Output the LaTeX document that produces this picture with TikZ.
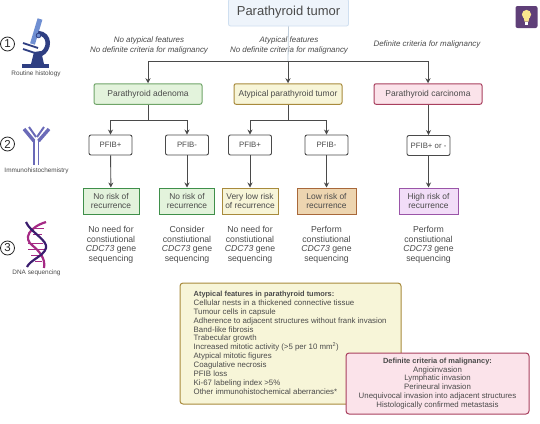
\documentclass[tikz,border=0pt]{standalone}
\usepackage{fontspec}
\setmainfont{Liberation Sans}
\usepackage{xcolor}
\usetikzlibrary{positioning,arrows.meta}
\definecolor{inkgray}{HTML}{4A4A4A}
\definecolor{textgray}{HTML}{4A4A4A}
\definecolor{titlefill}{HTML}{EEF4FB}
\definecolor{titleline}{HTML}{CFDFF0}
\definecolor{greenfill}{HTML}{E3F3DC}
\definecolor{greenline}{HTML}{6FA468}
\definecolor{riskgreen}{HTML}{3F8F4A}
\definecolor{yellowfill}{HTML}{F7F5D8}
\definecolor{yellowline}{HTML}{A88A3C}
\definecolor{pinkfill}{HTML}{FBE3EA}
\definecolor{pinkline}{HTML}{A83F5E}
\definecolor{tanfill}{HTML}{EDD5B0}
\definecolor{tanline}{HTML}{A8683A}
\definecolor{lilacfill}{HTML}{F2DDF8}
\definecolor{lilacline}{HTML}{9A55A8}
\definecolor{scopenavy}{HTML}{2F3F82}
\definecolor{scopeblue}{HTML}{6F8FD2}
\definecolor{abviolet}{HTML}{6A6AB8}
\definecolor{dnadark}{HTML}{3A1C6E}
\definecolor{dnapink}{HTML}{A52A85}
\definecolor{bulbback}{HTML}{5F3F78}
\definecolor{bulbglow}{HTML}{FBE78E}

\begin{document}
\begin{tikzpicture}[x=1pt,y=-1pt,
  every node/.style={font=\fontsize{8.4}{9.6}\selectfont,text=textgray},
  diag/.style={draw,rounded corners=2pt,line width=1pt,align=center,minimum width=108pt,minimum height=20.5pt,inner sep=0pt,font=\fontsize{8.5}{10}\selectfont},
  pfib/.style={draw=inkgray,rounded corners=2pt,line width=0.9pt,align=center,minimum width=43pt,minimum height=20pt,inner sep=0pt,font=\fontsize{7.8}{10}\selectfont},
  risk/.style={draw,line width=1pt,align=center,minimum height=26pt,inner sep=0pt,font=\fontsize{8.4}{9}\selectfont},
  advice/.style={align=center,font=\fontsize{8.7}{9.75}\selectfont},
  crit/.style={align=center,font=\fontsize{7.95}{10}\selectfont\itshape},
  iconlabel/.style={font=\fontsize{6.4}{7}\selectfont,text=textgray},
  stepnum/.style={draw=black!85,circle,line width=0.8pt,minimum size=14pt,inner sep=0pt,font=\fontsize{11.5}{12}\selectfont,text=black!85},
  arrow/.style={-{Stealth[length=5pt,width=5pt]},line width=0.9pt,draw=inkgray},
  link/.style={line width=0.9pt,draw=inkgray}
]
  \useasboundingbox (0,0) rectangle (540,423);
  % top row
  \node[draw=titleline,fill=titlefill,rounded corners=2pt,line width=0.8pt,minimum width=120pt,minimum height=27pt,inner sep=0pt,font=\fontsize{13}{14}\selectfont] (tumor) at (288.5,12.5) {Parathyroid tumor};
  \node[crit] (critA) at (149,45) {No atypical features\\No definite criteria for malignancy};
  \node[crit] (critB) at (289,45) {Atypical features\\No definite criteria for malignancy};
  \node[crit] (critC) at (427,44) {Definite criteria for malignancy};
  % diagnoses
  \node[diag,draw=greenline,fill=greenfill] (adenoma) at (148,94) {Parathyroid adenoma};
  \node[diag,draw=yellowline,fill=yellowfill] (atypical) at (288,94) {Atypical parathyroid tumor};
  \node[diag,draw=pinkline,fill=pinkfill] (carcinoma) at (428,94) {Parathyroid carcinoma};
  % immunostaining
  \node[pfib] (pfibA) at (110.5,145) {PFIB+};
  \node[pfib] (pfibB) at (187,145) {PFIB-};
  \node[pfib] (pfibC) at (250,145) {PFIB+};
  \node[pfib] (pfibD) at (326.5,145) {PFIB-};
  \node[pfib] (pfibE) at (428.5,145.5) {PFIB+ or -};
  % risk boxes
  \node[risk,draw=riskgreen,fill=greenfill,minimum width=56pt] (riskA) at (111,201) {No risk of\\recurrence};
  \node[risk,draw=riskgreen,fill=greenfill,minimum width=55pt] (riskB) at (187,201) {No risk of\\recurrence};
  \node[risk,draw=yellowline,fill=yellowfill,minimum width=56pt] (riskC) at (250,201) {Very low risk\\of recurrence};
  \node[risk,draw=tanline,fill=tanfill,minimum width=59pt] (riskD) at (326.5,201) {Low risk of\\recurrence};
  \node[risk,draw=lilacline,fill=lilacfill,minimum width=59pt] (riskE) at (428.5,201) {High risk of\\recurrence};
  % sequencing advice
  \node[advice,anchor=north] (seqA) at (111,222.5) {No need for\\constiutional\\\textit{CDC73} gene\\sequencing};
  \node[advice,anchor=north] (seqB) at (187,222.5) {Consider\\constiutional\\\textit{CDC73} gene\\sequencing};
  \node[advice,anchor=north] (seqC) at (250,222.5) {No need for\\constiutional\\\textit{CDC73} gene\\sequencing};
  \node[advice,anchor=north] (seqD) at (326.5,222.5) {Perform\\constiutional\\\textit{CDC73} gene\\sequencing};
  \node[advice,anchor=north] (seqE) at (428.5,222.5) {Perform\\constiutional\\\textit{CDC73} gene\\sequencing};
  % connectors
  \coordinate (busTop) at (288,61);
  \coordinate (busA) at (148,120.5);
  \coordinate (busB) at (288,120.5);
  \draw[line width=0.8pt,draw=titleline!80!gray] (tumor.south) -- (busTop);
  \draw[arrow] (busTop) -| (adenoma.north);
  \draw[arrow] (busTop) -- (atypical.north);
  \draw[arrow] (busTop) -| (carcinoma.north);
  \draw[link] (adenoma.south) -- (busA);
  \draw[link] (atypical.south) -- (busB);
  \draw[arrow] (busA) -| (pfibA.north);
  \draw[arrow] (busA) -| (pfibB.north);
  \draw[arrow] (busB) -| (pfibC.north);
  \draw[arrow] (busB) -| (pfibD.north);
  \draw[arrow] (carcinoma.south -| pfibE.north) -- (pfibE.north);
  \draw[arrow] (pfibA) -- (riskA);
  \draw[arrow] (pfibB) -- (riskB);
  \draw[arrow] (pfibC) -- (riskC);
  \draw[arrow] (pfibD) -- (riskD);
  \draw[arrow] (pfibE) -- (riskE);
  % step numbers and captions
  \node[stepnum] (one) at (7.5,44) {1};
  \node[stepnum] (two) at (7.5,144) {2};
  \node[stepnum] (three) at (7.5,248) {3};
  \node[iconlabel] (histology) at (36,73.5) {Routine histology};
  \node[iconlabel] (immuno) at (36.5,171) {Immunohistochemistry};
  \node[iconlabel] (dnaseq) at (36.5,273) {DNA sequencing};
  % microscope
  \draw[scopeblue,line width=5pt] (40,19) -- (32.5,44);
  \fill[scopenavy] (22,64) rectangle (48.5,68);
  \fill[scopenavy] (31,64) -- (34,52) -- (41,51) -- (44,64) -- cycle;
  \draw[scopenavy,line width=4.5pt] (38,33) .. controls (51,34) and (50,50) .. (41,54);
  \draw[scopenavy,line width=1.8pt] (23,43) -- (38,48);
  \draw[scopenavy,line width=1.8pt] (23,49) -- (35,53);
  \draw[scopenavy,fill=scopeblue,line width=0.8pt] (38.5,35.5) circle (2.3pt);
  % antibody
  \draw[abviolet,line width=1.2pt] (34,140) -- (34,165);
  \draw[abviolet,line width=1.2pt] (38.5,140) -- (38.5,165);
  \draw[abviolet,line width=3.4pt] (24,129) -- (34,141);
  \draw[abviolet,line width=3.4pt] (49,129) -- (38.5,141);
  \draw[abviolet,line width=2pt] (29,127) -- (36,137);
  \draw[abviolet,line width=2pt] (44,127) -- (37,137);
  % helix
  \foreach \rungy/\rungl/\rungr in {228/31/44,234/33/42,243/28/43,249/28/45,255/31/43,261/35/42}
    \draw[dnapink,line width=0.9pt] (\rungl,\rungy) -- (\rungr,\rungy);
  \draw[dnapink,line width=2.2pt] (46,222) .. controls (30,227) and (22,238) .. (33,246) .. controls (38,250) and (46,258) .. (44,268);
  \draw[dnadark,line width=2.2pt] (26,222) .. controls (30,232) and (48,240) .. (46,248) .. controls (44,256) and (30,260) .. (27,267);
  % lightbulb badge
  \node[fill=bulbback,rounded corners=2pt,minimum size=22pt,inner sep=0pt] (badge) at (526.5,17) {};
  \fill[bulbglow] (526.5,14.5) circle (4.6pt);
  \fill[bulbglow] (523.6,17) -- (529.4,17) -- (528.5,21.5) -- (524.5,21.5) -- cycle;
  \fill[white] (524.6,22.3) rectangle (528.4,24.5);
  % legend boxes
  \node[draw=yellowline,fill=yellowfill,rounded corners=3pt,line width=1pt,minimum width=221pt,minimum height=121pt,inner sep=0pt] (legendbox) at (290.5,343.5) {};
  \node[anchor=north west,align=left,inner sep=0pt,font=\fontsize{7.85}{8.87}\selectfont] (legendtext) at (193.5,291) {{\fontsize{7.4}{8.87}\selectfont\textbf{Atypical features in parathyroid tumors:}}\\
    Cellular nests in a thickened connective tissue\\
    Tumour cells in capsule\\
    Adherence to adjacent structures without frank invasion\\
    Band-like fibrosis\\
    Trabecular growth\\
    Increased mitotic activity (>5 per 10 mm\textsuperscript{2})\\
    Atypical mitotic figures\\
    Coagulative necrosis\\
    PFIB loss\\
    Ki-67 labeling index >5\%\\
    Other immunohistochemical aberrancies*};
  \node[draw=pinkline,fill=pinkfill,rounded corners=3pt,line width=1pt,minimum width=183pt,minimum height=61pt,inner sep=0pt,align=center,font=\fontsize{7.85}{8.87}\selectfont] (malignbox) at (437.5,383.5) {{\fontsize{7.45}{8.87}\selectfont\textbf{Definite criteria of malignancy:}}\\
    Angioinvasion\\
    Lymphatic invasion\\
    Perineural invasion\\
    Unequivocal invasion into adjacent structures\\
    Histologically confirmed metastasis};
\end{tikzpicture}
\end{document}
